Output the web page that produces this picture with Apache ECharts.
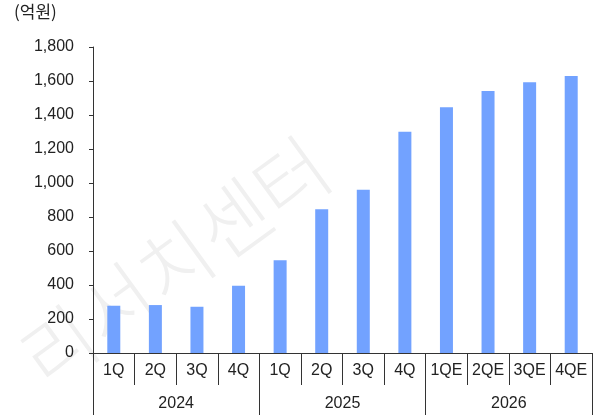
<!DOCTYPE html>
<html>
<head>
<meta charset="utf-8">
<script src="https://cdn.jsdelivr.net/npm/echarts@6/dist/echarts.min.js"></script>
<style>
  html, body { margin: 0; padding: 0; background: #fff; }
  #chart { width: 597px; height: 420px; }
</style>
</head>
<body>
<div id="chart"></div>
<script>
// Quarterly revenue (억원), 2024 actuals through 2026 estimates
const quarters = ['1Q', '2Q', '3Q', '4Q', '1Q', '2Q', '3Q', '4Q', '1QE', '2QE', '3QE', '4QE'];
const years = ['2024', '2025', '2026'];
const revenue = [278, 282, 272, 396, 545, 846, 960, 1302, 1445, 1541, 1593, 1630];
const yTicks = { min: 0, max: 1800, interval: 200 };
const unitLabel = '(억원)';
const watermark = '리서치센터';

const labelFont = '"Liberation Sans", Arial, sans-serif';
const axisColor = '#333';

const chart = echarts.init(document.getElementById('chart'), null, { renderer: 'canvas' });

chart.setOption({
  animation: false,
  backgroundColor: '#fff',
  grid: { left: 93, right: 5, top: 47, bottom: 67 },
  graphic: [
    {
      type: 'text',
      left: 14, top: 3,
      style: { text: unitLabel, font: '17px "Noto Sans CJK KR", sans-serif', fill: '#222' }
    },
    {
      type: 'text',
      x: 175, y: 262,
      rotation: 36 * Math.PI / 180,
      z: -1,
      style: {
        text: watermark,
        font: '300 78px "Noto Sans CJK KR", sans-serif',
        fill: '#f0f0f0',
        align: 'center',
        verticalAlign: 'middle'
      }
    }
  ],
  xAxis: [
    {
      type: 'category',
      data: quarters,
      position: 'bottom',
      axisLine: { show: true, lineStyle: { color: axisColor, width: 1 } },
      axisTick: { show: true, interval: 0, length: 32, lineStyle: { color: axisColor } },
      axisLabel: { interval: 0, margin: 10, color: '#222', fontSize: 16, fontFamily: labelFont }
    },
    {
      type: 'category',
      data: years,
      position: 'bottom',
      offset: 32,
      axisLine: { show: false },
      axisTick: { show: true, interval: 0, length: 30, lineStyle: { color: axisColor } },
      axisLabel: { interval: 0, margin: 11, color: '#222', fontSize: 16, fontFamily: labelFont }
    }
  ],
  yAxis: {
    type: 'value',
    min: yTicks.min,
    max: yTicks.max,
    interval: yTicks.interval,
    axisLine: { show: true, lineStyle: { color: axisColor } },
    axisTick: { show: true, length: 4, lineStyle: { color: axisColor } },
    splitLine: { show: false },
    axisLabel: {
      margin: 19,
      color: '#222',
      fontSize: 16,
      fontFamily: labelFont,
      formatter: v => v.toLocaleString('en-US')
    }
  },
  series: [
    {
      type: 'bar',
      xAxisIndex: 0,
      data: revenue,
      barWidth: 13,
      itemStyle: { color: '#72a2ff' }
    }
  ]
});
</script>
</body>
</html>
